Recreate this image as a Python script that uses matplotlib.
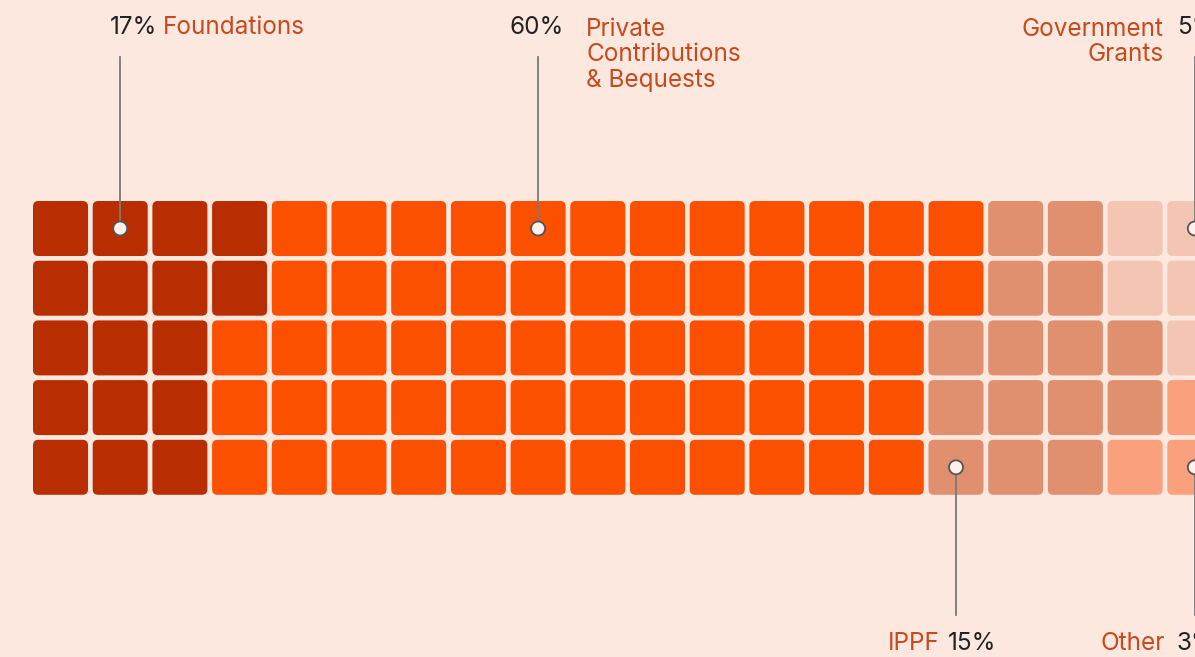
import matplotlib
matplotlib.use("Agg")
import matplotlib.pyplot as plt
from matplotlib.patches import FancyBboxPatch, Circle

# ---- data ----
categories = ["Foundations", "Private\nContributions\n& Bequests", "IPPF", "Government\nGrants", "Other"]
values = [17, 60, 15, 5, 3]
colors = ["#B82E00", "#FA5000", "#E0906F", "#F5C5B3", "#FBA07D"]
pct_labels = ["17%", "60%", "15%", "5%", "3%"]

NROWS, NCOLS = 5, 20
BG = "#FDE8DF"
LABEL_C = "#C64A1C"
NUM_C = "#222222"
LINE_C = "#7a7a7a"

# ---- cell assignment ----
grid = [[None] * NCOLS for _ in range(NROWS)]
# tail block (last two columns): Government from the top, Other from the bottom
tail_cols = [NCOLS - 1, NCOLS - 2]
top_order = [(c, r) for r in range(NROWS) for c in tail_cols]
bot_order = [(c, r) for r in reversed(range(NROWS)) for c in tail_cols]
for (c, r) in top_order[:values[3]]:
    grid[r][c] = 3
for (c, r) in bot_order[:values[4]]:
    grid[r][c] = 4
# main categories fill column-major
free = [(c, r) for c in range(NCOLS) for r in range(NROWS) if grid[r][c] is None]
k = 0
for ci in range(3):
    for _ in range(values[ci]):
        c, r = free[k]
        grid[r][c] = ci
        k += 1

# ---- figure ----
W, H = 1195, 657
fig = plt.figure(figsize=(W / 100, H / 100), dpi=100, facecolor=BG)
ax = fig.add_axes([0, 0, 1, 1])
ax.set_facecolor(BG)
pitch = 59.7
x0px, y0px = 33.0, 201.0
ax.set_xlim(-x0px / pitch, (W - x0px) / pitch)
ax.set_ylim((H - y0px) / pitch, -y0px / pitch)
ax.axis("off")

def px(x, y):
    return (x - x0px) / pitch, (y - y0px) / pitch

cw = 55.0 / pitch
for r in range(NROWS):
    for c in range(NCOLS):
        ci = grid[r][c]
        p = FancyBboxPatch((c, r), cw, cw,
                           boxstyle="round,pad=0,rounding_size=0.09",
                           fc=colors[ci], ec="none")
        ax.add_patch(p)

fam = ["Inter", "DejaVu Sans"]
fs = 17.5
ls = 1.13

def marker(c, r, y_end):
    cx, cy = c + cw / 2, r + cw / 2
    ax.plot([cx, cx], [y_end, cy], color=LINE_C, lw=1.3, zorder=3)
    ax.add_patch(Circle((cx, cy), 7.0 / pitch, fc="#FDF1EC", ec="#555555", lw=1.3, zorder=4))

# Foundations (top)
marker(1, 0, px(0, 57)[1])
ax.text(*px(110, 28), pct_labels[0], color=NUM_C, fontsize=fs, family=fam, va="center", ha="left")
ax.text(*px(163, 28), categories[0], color=LABEL_C, fontsize=fs, family=fam, va="center", ha="left")

# Private (top)
marker(8, 0, px(0, 57)[1])
ax.text(*px(510, 28), pct_labels[1], color=NUM_C, fontsize=fs, family=fam, va="center", ha="left")
ax.text(*px(586, 18), categories[1],
        color=LABEL_C, fontsize=fs, family=fam, va="top", ha="left", linespacing=ls)

# Government (top, right edge)
marker(19, 0, px(0, 57)[1])
ax.text(*px(1164, 18), categories[3], color=LABEL_C, fontsize=fs, family=fam, va="top", ha="right",
        multialignment="right", linespacing=ls)
ax.text(*px(1177, 28), pct_labels[3], color=NUM_C, fontsize=fs, family=fam, va="center", ha="left")

# IPPF (bottom)
marker(15, 4, px(0, 615)[1])
ax.text(*px(888, 643), categories[2], color=LABEL_C, fontsize=fs, family=fam, va="center", ha="left")
ax.text(*px(948, 643), pct_labels[2], color=NUM_C, fontsize=fs, family=fam, va="center", ha="left")

# Other (bottom, right edge)
marker(19, 4, px(0, 615)[1])
ax.text(*px(1165, 643), categories[4], color=LABEL_C, fontsize=fs, family=fam, va="center", ha="right")
ax.text(*px(1177, 643), pct_labels[4], color=NUM_C, fontsize=fs, family=fam, va="center", ha="left")

fig.savefig("out.png", dpi=100, facecolor=BG)
